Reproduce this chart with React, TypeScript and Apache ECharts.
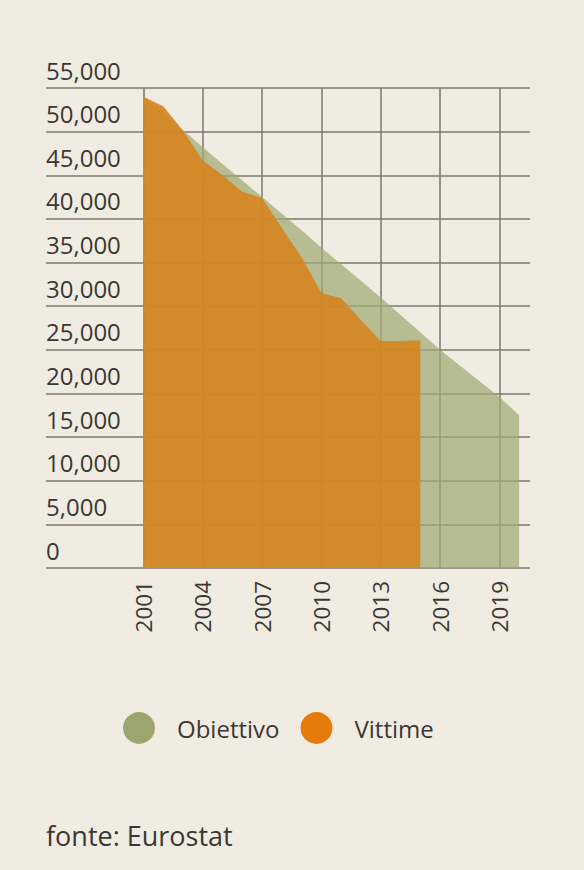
import * as echarts from "echarts";
import { useEffect, useRef } from "react";

// anni e valori
const obiettivoYears = [2001, 2002, 2003, 2004, 2005, 2006, 2007, 2008, 2009, 2010, 2011, 2012, 2013, 2014, 2015, 2016, 2017, 2018, 2019, 2020];
const obiettivoValues = [54000, 52100, 50200, 48200, 46300, 44400, 42500, 40600, 38700, 36700, 34800, 32900, 31000, 29000, 27000, 25000, 23200, 21400, 19600, 17500];

const vittimeYears = [2001, 2002, 2003, 2004, 2005, 2006, 2007, 2008, 2009, 2010, 2011, 2012, 2013, 2014, 2015];
const vittimeValues = [54000, 52900, 50100, 46700, 45000, 43100, 42400, 39000, 35600, 31500, 30900, 28400, 26000, 26000, 26100];

const yearTicks = [2001, 2004, 2007, 2010, 2013, 2016, 2019];

const BG = "#f1ece2";
const TEXT = "#3b3833";
const GRID = "#7d786e";
const FONT = "'Open Sans', sans-serif";

const App = () => {
  const chartRef = useRef(null);

  useEffect(() => {
    const myChart = echarts.init(chartRef.current, null, { renderer: "svg" });
    const option: echarts.EChartsOption = {
      animation: false,
      backgroundColor: BG,
      textStyle: { fontFamily: FONT },
      grid: { left: 46, right: 54, top: 88, bottom: 302 },
      legend: {
        left: 123,
        top: 712,
        padding: 0,
        itemWidth: 32,
        itemHeight: 32,
        itemGap: 21,
        icon: "circle",
        textStyle: { fontSize: 24, color: TEXT, fontFamily: FONT, padding: [3, 0, 0, 17] },
        data: [
          { name: "Obiettivo", itemStyle: { color: "#9ca56d", opacity: 1 } },
          { name: "Vittime", itemStyle: { color: "#e47b0b", opacity: 1 } },
        ],
      },
      xAxis: {
        type: "value",
        min: 1996.07,
        max: 2020.55,
        axisLine: { show: false },
        axisTick: { show: false },
        splitLine: { show: false },
        axisLabel: {
          customValues: yearTicks,
          rotate: 90,
          margin: 13,
          fontSize: 22.5,
          color: TEXT,
          fontFamily: FONT,
          formatter: (v: number) => String(v),
        },
      },
      yAxis: {
        type: "value",
        min: 0,
        max: 55000,
        interval: 5000,
        axisLine: { show: false },
        axisTick: { show: false },
        splitLine: { show: true, lineStyle: { color: GRID, width: 1.5 } },
        axisLabel: {
          inside: true,
          margin: 0,
          align: "left",
          verticalAlign: "bottom",
          padding: [0, 0, 6, 0],
          fontSize: 24,
          color: TEXT,
          fontFamily: FONT,
          formatter: (v: number) => v.toLocaleString("en-US"),
        },
      },
      series: [
        {
          name: "Obiettivo",
          type: "line",
          z: 2,
          showSymbol: false,
          lineStyle: { width: 0, opacity: 0 },
          itemStyle: { color: "#9ca56d" },
          areaStyle: { color: "#a1ab73", opacity: 0.72 },
          data: obiettivoYears.map((y, i) => [y, obiettivoValues[i]]),
          markLine: {
            silent: true,
            z: 1,
            symbol: "none",
            label: { show: false },
            lineStyle: { color: GRID, width: 1.5, type: "solid" },
            data: yearTicks.map((y) => ({ xAxis: y })),
          },
        },
        {
          name: "Vittime",
          type: "line",
          z: 3,
          showSymbol: false,
          lineStyle: { width: 0, opacity: 0 },
          itemStyle: { color: "#e47b0b" },
          areaStyle: { color: "#d6841f", opacity: 0.9 },
          data: vittimeYears.map((y, i) => [y, vittimeValues[i]]),
        },
      ],
      graphic: [
        {
          type: "text",
          left: 46,
          top: 822,
          style: { text: "fonte: Eurostat", fontSize: 27, fill: TEXT, fontFamily: FONT },
        },
      ],
    };
    myChart.setOption(option);
    return () => {
      myChart.dispose();
    };
  }, []);

  return (
    <div
      ref={chartRef}
      style={{ position: "absolute", left: 0, top: 0, width: "584px", height: "870px", background: BG }}
    />
  );
};

export default App;
